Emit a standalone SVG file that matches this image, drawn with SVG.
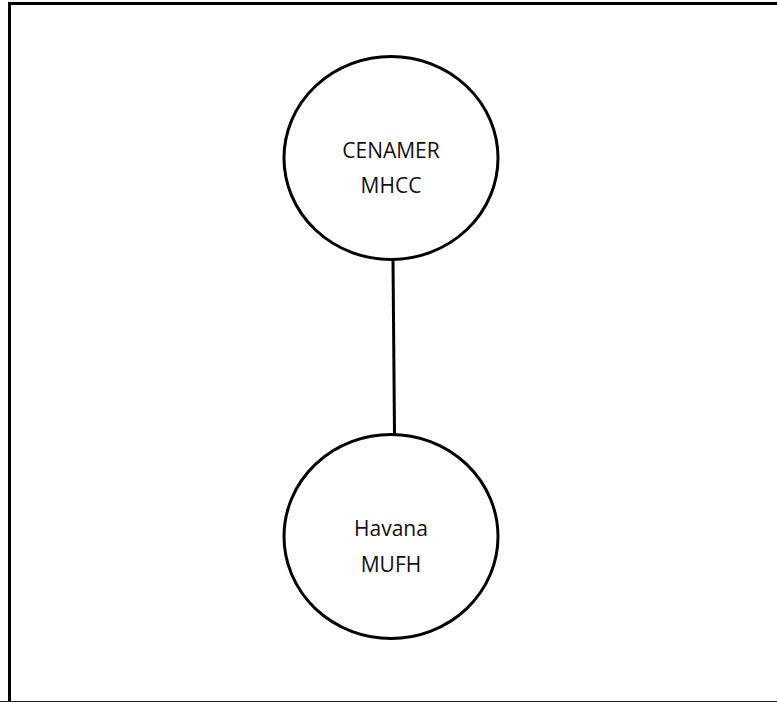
<svg xmlns="http://www.w3.org/2000/svg" width="777" height="702" viewBox="0 0 777 702">
<style>
.node{fill:#fff;stroke:#000;stroke-width:3}
.lbl{font-family:"Open Sans","Noto Sans",sans-serif;font-size:21px;fill:#111;text-anchor:middle}
.edge{stroke:#000;stroke-width:3;fill:none}
</style>
<rect width="777" height="702" fill="#fff"/>
<path d="M9.5,702 V3.5 H777" fill="none" stroke="#000" stroke-width="3"/>
<line x1="0" y1="701.5" x2="777" y2="701.5" stroke="#222" stroke-width="1"/>
<g id="connectors">
<line class="edge" x1="393" y1="259" x2="394.5" y2="435"/>
</g>
<g id="node-cenamer">
<ellipse class="node" cx="391" cy="158" rx="107" ry="101.5"/>
<text class="lbl" x="391" y="157.5">CENAMER</text>
<text class="lbl" x="391" y="192.5">MHCC</text>
</g>
<g id="node-havana">
<ellipse class="node" cx="391" cy="536.5" rx="107" ry="102"/>
<text class="lbl" x="391" y="536">Havana</text>
<text class="lbl" x="391" y="571.5">MUFH</text>
</g>
</svg>
